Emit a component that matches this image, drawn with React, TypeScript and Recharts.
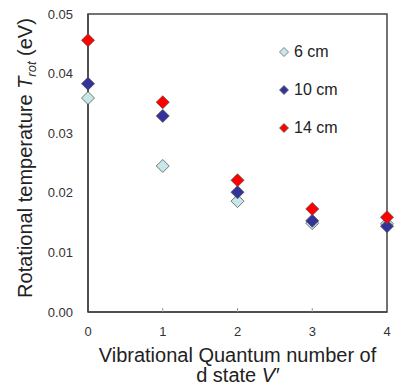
import React from 'react';
import { ScatterChart, Scatter, XAxis, YAxis, ReferenceArea } from 'recharts';

const vLevels = [0, 1, 2, 3, 4];
const yTicks = [0, 0.01, 0.02, 0.03, 0.04, 0.05];
const t6cm = [0.0359, 0.0245, 0.0186, 0.0149, 0.0148];
const t10cm = [0.0383, 0.0329, 0.0201, 0.0153, 0.0144];
const t14cm = [0.0456, 0.0352, 0.0221, 0.0173, 0.0159];

const series = [
  { name: '6 cm', values: t6cm, color: '#c6e8e8' },
  { name: '10 cm', values: t10cm, color: '#333399' },
  { name: '14 cm', values: t14cm, color: '#ff0000' },
];

const FONT = 'Liberation Sans, Arial, sans-serif';

const Diamond = (props: any) => {
  const { cx, cy, fill } = props;
  const r = 6.5;
  return (
    <path
      d={`M${cx},${cy - r}L${cx + r},${cy}L${cx},${cy + r}L${cx - r},${cy}Z`}
      fill={fill}
      stroke="#555"
      strokeWidth={0.8}
    />
  );
};

const XTick = (props: any) => {
  const { x, y, payload } = props;
  const axisY = y - 12;
  return (
    <g>
      {payload.value > 0 && payload.value < 4 && (
        <line x1={x} x2={x} y1={axisY} y2={axisY - 4} stroke="#999" strokeWidth={1} />
      )}
      <text x={x} y={y} dy={12} textAnchor="middle" fontSize={13} fill="#333" fontFamily={FONT}>
        {payload.value}
      </text>
    </g>
  );
};

const LegendBox = () => (
  <div style={{ position: 'absolute', left: 278, top: 33, fontFamily: FONT, fontSize: 16, color: '#222' }}>
    {series.map((s) => (
      <div key={s.name} style={{ display: 'flex', alignItems: 'center', height: 38 }}>
        <svg width={12} height={12} style={{ marginRight: 4 }}>
          <path d="M6,1.5L10.5,6L6,10.5L1.5,6Z" fill={s.color} stroke="#666" strokeWidth={0.8} />
        </svg>
        {s.name}
      </div>
    ))}
  </div>
);

const XLabel = (props: any) => {
  const { viewBox } = props;
  const cx = viewBox.x + viewBox.width / 2;
  return (
    <text textAnchor="middle" fontSize={20} fill="#222" fontFamily={FONT}>
      <tspan x={cx} y={362}>Vibrational Quantum number of</tspan>
      <tspan x={cx} y={382}>d state <tspan fontStyle="italic">V′</tspan></tspan>
    </text>
  );
};

const YLabel = () => (
  <text
    transform="translate(32,158) rotate(-90)"
    textAnchor="middle"
    fontSize={20}
    fill="#222"
    fontFamily={FONT}
  >
    Rotational temperature <tspan fontStyle="italic">T</tspan>
    <tspan fontStyle="italic" fontSize={13} dy={4}>rot</tspan>
    <tspan dy={-4}> (eV)</tspan>
  </text>
);

export default function App() {
  return (
    <div style={{ position: 'absolute', left: 0, top: 0, width: 400, height: 385, background: '#fff' }}>
      <ScatterChart width={400} height={385} margin={{ top: 14, right: 13, bottom: 0, left: 0 }}>
        <XAxis
          type="number"
          dataKey="x"
          domain={[0, 4]}
          ticks={vLevels}
          height={73}
          tickLine={false}
          tickSize={0}
          tickMargin={12}
          tick={<XTick />}
          axisLine={{ stroke: '#444', strokeWidth: 1.5 }}
          label={<XLabel />}
        />
        <YAxis
          type="number"
          dataKey="y"
          domain={[0, 0.05]}
          ticks={yTicks}
          width={88}
          tickLine={false}
          tickSize={0}
          tickMargin={15}
          tickFormatter={(v: number) => v.toFixed(2)}
          tick={{ fontSize: 13, fill: '#333', fontFamily: FONT }}
          axisLine={{ stroke: '#444', strokeWidth: 1.5 }}
          label={<YLabel />}
        />
        <ReferenceArea
          x1={0}
          x2={4}
          y1={0}
          y2={0.05}
          fill="none"
          fillOpacity={0}
          stroke="#444"
          strokeWidth={1.5}
          ifOverflow="visible"
        />
        {series.map((s) => (
          <Scatter
            key={s.name}
            name={s.name}
            data={vLevels.map((v, i) => ({ x: v, y: s.values[i] }))}
            fill={s.color}
            shape={<Diamond />}
            isAnimationActive={false}
          />
        ))}
      </ScatterChart>
      <LegendBox />
    </div>
  );
}
